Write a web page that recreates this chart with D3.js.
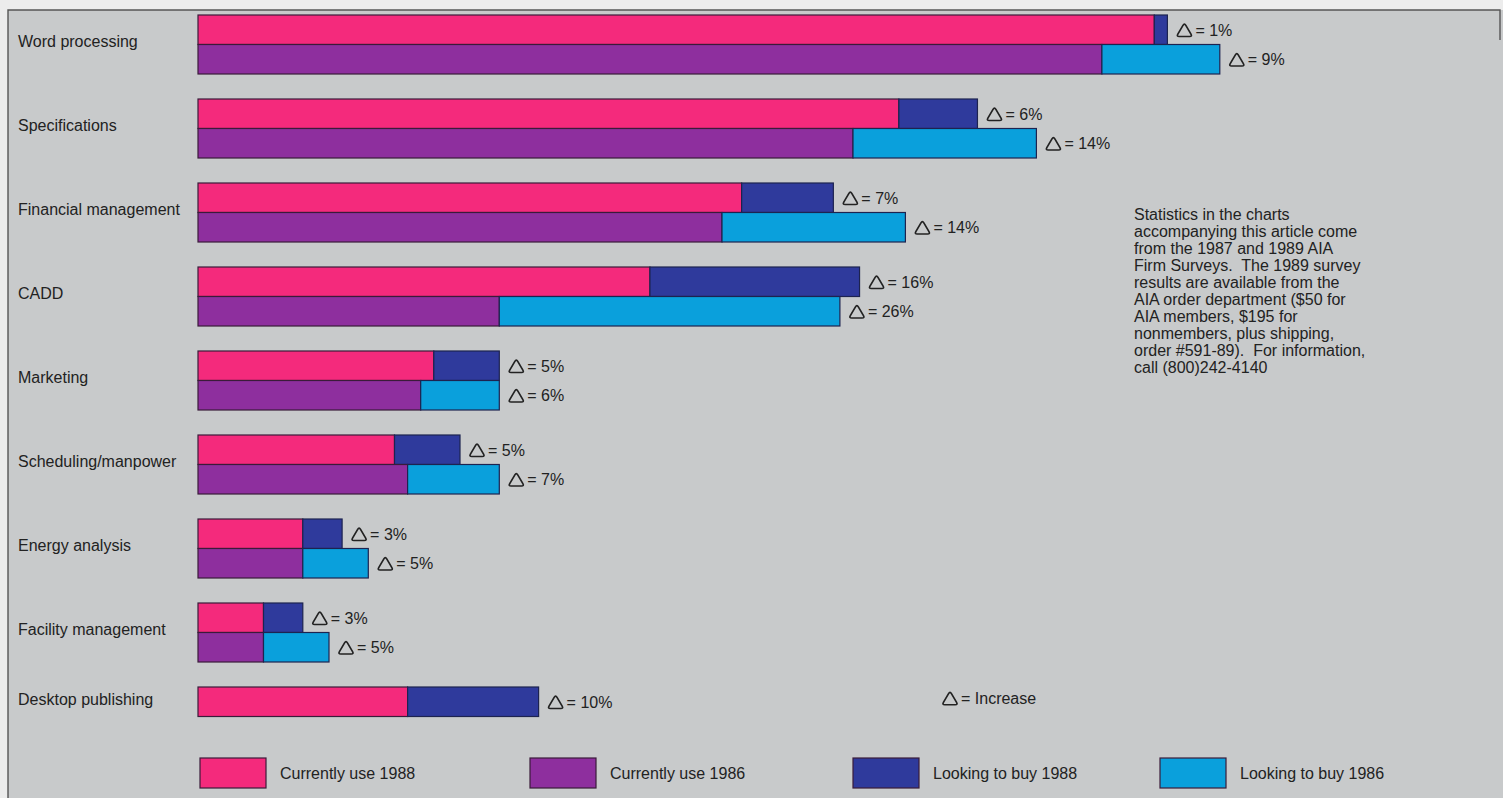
<!DOCTYPE html>
<html>
<head>
<meta charset="utf-8">
<script src="https://cdn.jsdelivr.net/npm/d3@7"></script>
<style>
  html, body { margin: 0; padding: 0; background: #ececec; }
  svg { display: block; }
  text { font-family: "Liberation Sans", Arial, Helvetica, sans-serif; fill: #222; white-space: pre; }
</style>
</head>
<body>
<svg id="chart" width="1503" height="798"></svg>
<script>
// Software applications in architecture firms: share of firms (%)
const categories = [
  "Word processing", "Specifications", "Financial management", "CADD",
  "Marketing", "Scheduling/manpower", "Energy analysis",
  "Facility management", "Desktop publishing"
];
const currentUse1988 = [73, 53.5, 41.5, 34.5, 18, 15, 8, 5, 16];
const lookingToBuy1988 = [1, 6, 7, 16, 5, 5, 3, 3, 10];
const currentUse1986 = [69, 50, 40, 23, 17, 16, 8, 5, null];
const lookingToBuy1986 = [9, 14, 14, 26, 6, 7, 5, 5, null];

const seriesNames = ["Currently use 1988", "Currently use 1986", "Looking to buy 1988", "Looking to buy 1986"];
const seriesColors = ["#f42a7c", "#8e2f9e", "#2f3a9c", "#0aa0dc"];

const noteLines = [
  "Statistics in the charts",
  "accompanying this article come",
  "from the 1987 and 1989 AIA",
  "Firm Surveys.  The 1989 survey",
  "results are available from the",
  "AIA order department ($50 for",
  "AIA members, $195 for",
  "nonmembers, plus shipping,",
  "order #591-89).  For information,",
  "call (800)242-4140"
];

const svg = d3.select("#chart");
const W = 1503, H = 798;

// paper panel with a dark rule on the top and left edges
svg.append("rect").attr("x", 8).attr("y", 10).attr("width", W - 8).attr("height", H - 10)
  .attr("fill", "#c8cacb");
svg.append("path").attr("d", `M8,${H} V10 H${W - 3} V40`)
  .attr("fill", "none").attr("stroke", "#555").attr("stroke-width", 1.4);

const x = d3.scaleLinear().domain([0, 100]).range([198, 198 + 1310]);
const y = d3.scaleBand().domain(categories).range([15, 15 + 84 * categories.length]);
const rowH = 29.5;

// rounded outline triangle used as the "increase" sign
function deltaPath(x0, yc) {
  const w = 16, h = 13.5, r = 2.8;
  const top = [x0 + w / 2, yc - h / 2], bl = [x0, yc + h / 2], br = [x0 + w, yc + h / 2];
  const lerp = (a, b, t) => [a[0] + (b[0] - a[0]) * t, a[1] + (b[1] - a[1]) * t];
  const len = (a, b) => Math.hypot(b[0] - a[0], b[1] - a[1]);
  const pts = [top, br, bl];
  let d = "";
  for (let i = 0; i < 3; i++) {
    const p = pts[i], prev = pts[(i + 2) % 3], next = pts[(i + 1) % 3];
    const a = lerp(p, prev, r / len(p, prev));
    const b = lerp(p, next, r / len(p, next));
    d += (i === 0 ? "M" : "L") + a[0] + "," + a[1] + " Q" + p[0] + "," + p[1] + " " + b[0] + "," + b[1] + " ";
  }
  return d + "Z";
}

function deltaLabel(g, x0, yc, label) {
  g.append("path").attr("d", deltaPath(x0, yc))
    .attr("fill", "none").attr("stroke", "#222").attr("stroke-width", 1.7);
  g.append("text").attr("x", x0 + 19).attr("y", yc).attr("dy", "0.36em")
    .attr("font-size", 16).text(label);
}

const rows = [];
categories.forEach((c, i) => {
  rows.push({ cat: c, row: 0, cur: currentUse1988[i], buy: lookingToBuy1988[i], cc: seriesColors[0], bc: seriesColors[2] });
  if (currentUse1986[i] != null)
    rows.push({ cat: c, row: 1, cur: currentUse1986[i], buy: lookingToBuy1986[i], cc: seriesColors[1], bc: seriesColors[3] });
});

const bars = svg.append("g");
rows.forEach(r => {
  const top = y(r.cat) + r.row * rowH;
  bars.append("rect")
    .attr("x", x(0)).attr("y", top)
    .attr("width", x(r.cur) - x(0)).attr("height", rowH)
    .attr("fill", r.cc).attr("stroke", "#3a1b3a").attr("stroke-width", 1.2);
  bars.append("rect")
    .attr("x", x(r.cur)).attr("y", top)
    .attr("width", x(r.cur + r.buy) - x(r.cur)).attr("height", rowH)
    .attr("fill", r.bc).attr("stroke", "#1d2350").attr("stroke-width", 1.2);
  deltaLabel(bars, x(r.cur + r.buy) + 9, top + rowH / 2, "= " + r.buy + "%");
});

// category labels
svg.append("g").selectAll("text").data(categories).join("text")
  .attr("x", 18)
  .attr("y", (c, i) => y(c) + (currentUse1986[i] != null ? rowH : rowH / 2) - 3)
  .attr("dy", "0.36em")
  .attr("font-size", 16)
  .text(d => d);

// side note
svg.append("g").selectAll("text").data(noteLines).join("text")
  .attr("x", 1134).attr("y", (d, i) => 214 + i * 17).attr("dy", "0.36em")
  .attr("font-size", 16).text(d => d);

// increase key
deltaLabel(svg.append("g"), 942, 698, "= Increase");

// legend
const legendX = [200, 530, 853, 1160];
const legend = svg.append("g").selectAll("g").data(seriesNames).join("g")
  .attr("transform", (d, i) => `translate(${legendX[i]},758)`);
legend.append("rect").attr("width", 66).attr("height", 30)
  .attr("fill", (d, i) => seriesColors[i]).attr("stroke", "#3a1b3a").attr("stroke-width", 1.2);
legend.append("text").attr("x", 80).attr("y", 15).attr("dy", "0.36em")
  .attr("font-size", 16).text(d => d);
</script>
</body>
</html>
